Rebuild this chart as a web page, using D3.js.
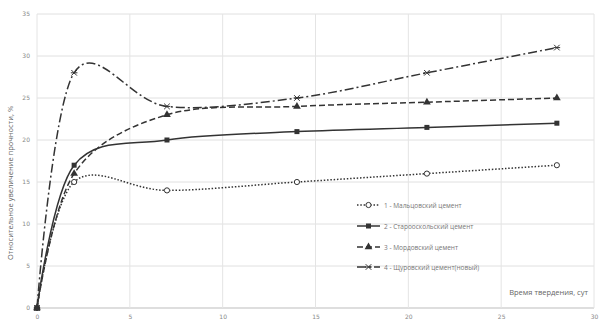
<!DOCTYPE html>
<html><head><meta charset="utf-8">
<script src="https://cdn.jsdelivr.net/npm/d3@7"></script>
<style>body{margin:0;background:#fff}svg{display:block}</style>
</head><body>
<script>
const days = [0, 2, 7, 14, 21, 28];
const s1 = [0, 15, 14, 15, 16, 17];
const s2 = [0, 17, 20, 21, 21.5, 22];
const s3 = [0, 16, 23, 24, 24.5, 25];
const s4 = [0, 28, 24, 25, 28, 31];
const seriesNames = ["1 - Мальцовский цемент", "2 - Старооскольский цемент", "3 - Мордовский цемент", "4 - Щуровский цемент(новый)"];
const xTicks = [0, 5, 10, 15, 20, 25, 30];
const yTicks = [0, 5, 10, 15, 20, 25, 30, 35];
const yTitle = "Относительное увеличение прочности, %";
const xTitle = "Время твердения, сут";

const W = 599, H = 322;
const svg = d3.select("body").append("svg").attr("width", W).attr("height", H);
const x = d3.scaleLinear().domain([0, 30]).range([37, 594]);
const y = d3.scaleLinear().domain([0, 35]).range([308, 14]);

// grid
const g = svg.append("g");
g.selectAll(".hg").data(yTicks).join("line")
  .attr("x1", x(0)).attr("x2", x(30)).attr("y1", d => y(d)).attr("y2", d => y(d))
  .attr("stroke", d => d === 0 ? "#bdbdbd" : "#e0e0e0").attr("stroke-width", 1);
g.selectAll(".vg").data(xTicks).join("line")
  .attr("y1", y(0)).attr("y2", y(35)).attr("x1", d => x(d)).attr("x2", d => x(d))
  .attr("stroke", "#e4e4e4").attr("stroke-width", 1);

// axes labels
const yAxis = d3.axisLeft(y).tickValues(yTicks).tickSize(0).tickPadding(7);
svg.append("g").attr("transform", `translate(${x(0)},0)`).call(yAxis)
  .call(a => a.select(".domain").remove())
  .selectAll("text").attr("fill", "#888").style("font-family", "DejaVu Sans, sans-serif").style("font-size", "6px");
const xAxis = d3.axisBottom(x).tickValues(xTicks).tickSize(0).tickPadding(7);
svg.append("g").attr("transform", `translate(0,${y(0)})`).call(xAxis)
  .call(a => a.select(".domain").remove())
  .selectAll("text").attr("fill", "#888").style("font-family", "DejaVu Sans, sans-serif").style("font-size", "6px");

svg.append("text").attr("transform", `translate(13,${183}) rotate(-90)`)
  .attr("text-anchor", "middle").attr("fill", "#666")
  .style("font-family", "Open Sans, sans-serif").style("font-size", "7.5px").text(yTitle);
svg.append("text").attr("x", 588).attr("y", 295).attr("text-anchor", "end").attr("fill", "#666")
  .style("font-family", "Open Sans, sans-serif").style("font-size", "7.5px").text(xTitle);

const styles = [
  {vals: s1, dash: "1.5,1.8", marker: "circle"},
  {vals: s2, dash: null, marker: "square"},
  {vals: s3, dash: "6,3", marker: "triangle"},
  {vals: s4, dash: "9,3,2,3", marker: "x"}
];
const line = d3.line().x(d => x(d[0])).y(d => y(d[1])).curve(d3.curveCatmullRom.alpha(0));
const col = "#333";

function drawMarker(sel, type, cx, cy) {
  if (type === "circle") sel.append("circle").attr("cx", cx).attr("cy", cy).attr("r", 2.6).attr("fill", "#fff").attr("stroke", col).attr("stroke-width", 1);
  else if (type === "square") sel.append("rect").attr("x", cx - 2.5).attr("y", cy - 2.5).attr("width", 5).attr("height", 5).attr("fill", col);
  else if (type === "triangle") sel.append("path").attr("d", d3.symbol(d3.symbolTriangle, 26)()).attr("transform", `translate(${cx},${cy})`).attr("fill", col);
  else if (type === "x") {
    sel.append("path").attr("d", `M${cx-2.8},${cy-2.8}L${cx+2.8},${cy+2.8}M${cx-2.8},${cy+2.8}L${cx+2.8},${cy-2.8}M${cx-3.3},${cy}L${cx+3.3},${cy}`)
      .attr("stroke", col).attr("stroke-width", 1);
  }
}

styles.forEach(s => {
  const pts = days.map((d, i) => [d, s.vals[i]]);
  svg.append("path").attr("d", line(pts)).attr("fill", "none").attr("stroke", col)
    .attr("stroke-width", 1.5).attr("stroke-dasharray", s.dash);
  const mg = svg.append("g");
  pts.forEach(p => drawMarker(mg, s.marker, x(p[0]), y(p[1])));
});

// legend
const legY = [205, 226, 247, 267];
styles.forEach((s, i) => {
  const lg = svg.append("g");
  lg.append("line").attr("x1", 357).attr("x2", 380).attr("y1", legY[i]).attr("y2", legY[i])
    .attr("stroke", col).attr("stroke-width", 1.5).attr("stroke-dasharray", s.dash);
  drawMarker(lg, s.marker, 368.5, legY[i]);
  lg.append("text").attr("x", 384).attr("y", legY[i] + 2.5).attr("fill", "#777")
    .style("font-family", "Open Sans, sans-serif").style("font-size", "6.5px").text(seriesNames[i]);
});
</script>
</body></html>
